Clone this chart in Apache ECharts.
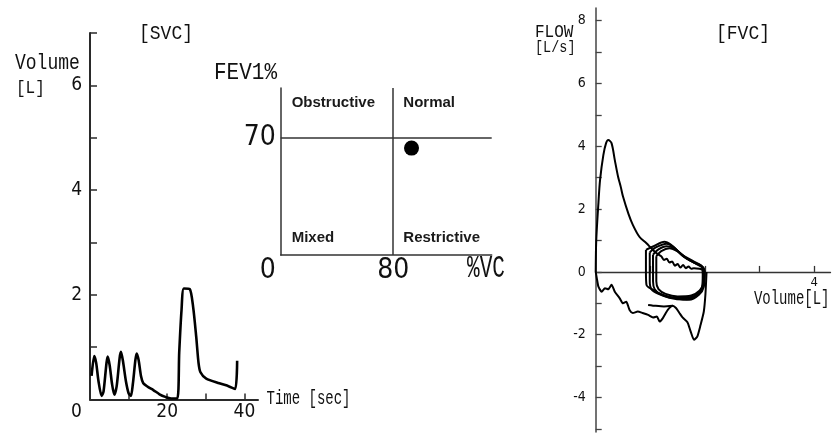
<!DOCTYPE html>
<html>
<head>
<meta charset="utf-8">
<script src="https://cdn.jsdelivr.net/npm/echarts@6.0.0/dist/echarts.min.js"></script>
<style>
html,body{margin:0;padding:0;background:#fff;}
#c{width:834px;height:435px;}
</style>
</head>
<body>
<div id="c"></div>
<script>
// ---------- DATA ----------
// SVC spirogram: [time (s), volume (L)]
const svcTrace = [
  [0.4,0.45],[1.1,0.83],[1.6,0.7],[2.2,0.35],[3.0,0.07],[3.5,0.15],[4.6,0.82],[5.1,0.65],
  [5.7,0.3],[6.3,0.09],[6.9,0.25],[8.0,0.91],[8.5,0.75],[9.3,0.35],[10.0,0.12],[10.6,0.07],
  [11.1,0.3],[12.1,0.88],[12.6,0.75],[13.2,0.45],[13.8,0.31],[15.0,0.24],[16.4,0.18],
  [18.0,0.1],[19.5,0.05],[21.0,0.02],[22.6,0.02],[23.1,0.9],[23.7,1.71],[24.3,2.12],
  [25.8,2.11],[26.7,1.77],[27.5,1.2],[28.1,0.7],[28.6,0.52],[30.1,0.4],[33.5,0.31],
  [36.0,0.25],[37.6,0.2],[38.1,0.74]
];
const svcYTicks = [1,2,3,4,5,6,7];
const svcYLabels = [2,4,6];
const svcXTicks = [10,20,30,40];
const svcXLabels = [0,20,40];

// Quadrant chart (%VC vs FEV1%)
const patient = [[93, 64]];
const vcCut = 80;
const fevCut = 70;
const quadrantNames = ['Obstructive','Normal','Mixed','Restrictive'];

// FVC flow-volume: [volume (L), flow (L/s)]
const fvcExpiration = [
  [0.0,0.0],[0.01,1.0],[0.05,2.2],[0.08,2.93],[0.14,3.72],[0.19,4.1],[0.23,4.2],[0.29,4.1],
  [0.35,3.56],[0.41,3.03],[0.46,2.7],[0.5,2.4],[0.6,1.85],[0.68,1.5],[0.8,1.12],[0.93,0.91],
  [1.02,0.75],[1.11,0.6],[1.2,0.5],[1.25,0.38],[1.3,0.42],[1.35,0.3],[1.4,0.33],[1.45,0.2],
  [1.5,0.25],[1.55,0.14],[1.6,0.22],[1.65,0.12],[1.7,0.17],[1.75,0.1],[1.8,0.12],[1.9,0.1],[1.98,0.06]
];
const fvcInspiration = [
  [0,0],[0.02,-0.2],[0.05,-0.47],[0.11,-0.63],[0.17,-0.52],[0.23,-0.55],[0.29,-0.41],[0.35,-0.63],
  [0.44,-0.84],[0.5,-1.0],[0.56,-0.95],[0.62,-1.21],[0.68,-1.31],[0.77,-1.26],[0.86,-1.31],
  [0.96,-1.37],[1.05,-1.45],[1.12,-1.42],[1.17,-1.58],[1.23,-1.47],[1.32,-1.21],[1.41,-1.08],
  [1.47,-1.15],[1.53,-1.3],[1.59,-1.45],[1.68,-1.6],[1.74,-1.9],[1.8,-2.16],[1.86,-2.06],
  [1.92,-1.69],[1.98,-1.26],[2.01,-0.7],[2.03,0.0]
];
const fvcInspStart = [[0.96,-1.05],[1.1,-1.08],[1.25,-1.1],[1.41,-1.08]];
const tidalLoopA = [[0.92,0.70],[1.05,0.81],[1.26,0.96],[1.38,0.86],[1.59,0.54],[1.80,0.33],[1.92,0.22],[1.98,0.12],[1.99,-0.2],[1.98,-0.47],[1.89,-0.73],[1.71,-0.89],[1.47,-0.84],[1.23,-0.73],[1.05,-0.57],[0.93,-0.41],[0.92,0.0],[0.92,0.70]];
const tidalLoopB = [[0.99,0.62],[1.1,0.78],[1.3,0.9],[1.42,0.8],[1.6,0.5],[1.8,0.3],[1.93,0.2],[1.97,0.05],[1.97,-0.3],[1.93,-0.6],[1.8,-0.8],[1.6,-0.88],[1.35,-0.82],[1.15,-0.7],[1.02,-0.55],[0.99,-0.3],[0.99,0.62]];
const tidalLoopC = [[1.05,0.55],[1.15,0.72],[1.3,0.82],[1.45,0.74],[1.62,0.48],[1.82,0.28],[1.94,0.18],[1.96,-0.1],[1.95,-0.45],[1.88,-0.68],[1.7,-0.82],[1.45,-0.83],[1.2,-0.72],[1.08,-0.55],[1.05,-0.3],[1.05,0.55]];
const tidalLoopD = [[1.11,0.5],[1.2,0.66],[1.35,0.75],[1.5,0.65],[1.68,0.42],[1.85,0.25],[1.95,0.15],[2.0,0.0],[1.98,-0.35],[1.9,-0.6],[1.75,-0.75],[1.5,-0.78],[1.28,-0.7],[1.15,-0.55],[1.11,-0.3],[1.11,0.5]];
const fvcYTicks = [-5,-4,-3,-2,-1,0,1,2,3,4,5,6,7,8];
const fvcYLabels = [-4,-2,0,2,4,6,8];
const fvcXTicks = [1,2,3,4];
const fvcXLabels = [4];

// ---------- STYLE ----------
const NARROW = "'Liberation Sans Narrow','DejaVu Sans Condensed','Roboto Condensed',sans-serif";
const MONO = "'Liberation Mono','DejaVu Sans Mono',monospace";
const INK = '#111';
const AX = '#2a2a2a';

function txt(text, x, y, size, align, scaleY) {
  return {
    type: 'text', x: x, y: y, scaleY: scaleY || 1, z: 100,
    style: { text: text, font: size + 'px ' + MONO, fill: INK, textAlign: align, textVerticalAlign: 'middle' }
  };
}
function qtxt(text, x, y) {
  return {type: 'text', x: x, y: y, z: 100,
    style: {text: text, font: "bold 15px 'Liberation Sans',Arial,sans-serif", fill: '#1a1a1a',
      textAlign: 'left', textVerticalAlign: 'middle'}};
}

const chart = echarts.init(document.getElementById('c'), null, {renderer: 'canvas'});
const lineS = (data, xi, w, smooth) => ({
  type: 'line', xAxisIndex: xi, yAxisIndex: xi, data: data, showSymbol: false, symbol: 'none',
  smooth: smooth || 0, lineStyle: {color: '#000', width: w}, silent: true, animation: false
});

const FVC_LEFT = 595.7, FVC_TOP = 8.1, FVC_W = 234.8, FVC_H = 424;
const FVC_YMIN = -5.1, FVC_YMAX = 8.4;
const zeroH = FVC_H * FVC_YMAX / (FVC_YMAX - FVC_YMIN);

chart.setOption({
  animation: false,
  backgroundColor: '#fff',
  grid: [
    {left: 90, top: 33, width: 168, height: 366.5},
    {left: 280.7, top: 88, width: 211, height: 167},
    {left: FVC_LEFT, top: FVC_TOP, width: FVC_W, height: FVC_H},
    {left: FVC_LEFT, top: FVC_TOP, width: FVC_W, height: zeroH}
  ],
  xAxis: [
    {gridIndex: 0, type: 'value', min: 0, max: 43.5,
     axisLine: {lineStyle: {color: AX, width: 2}},
     axisTick: {show: true, inside: true, length: 6, customValues: svcXTicks, lineStyle: {color: AX, width: 1.5}},
     axisLabel: {customValues: svcXLabels, margin: 3, color: INK, fontSize: 19, fontFamily: NARROW,
       formatter: v => v === 0 ? '{z|0}' : String(v),
       rich: {z: {fontSize: 19, fontFamily: NARROW, color: INK, padding: [0, 27, 0, 0]}}},
     splitLine: {show: false}},
    {gridIndex: 1, type: 'value', min: 0, max: 150,
     axisLine: {lineStyle: {color: '#333', width: 1.5}},
     axisTick: {show: false},
     axisLabel: {customValues: [0, vcCut], margin: 2, color: INK, fontSize: 28, fontFamily: NARROW,
       formatter: v => v === 0 ? '{z|0}' : String(v),
       rich: {z: {fontSize: 28, fontFamily: NARROW, color: INK, padding: [0, 26, 0, 0]}}},
     splitLine: {show: false}},
    {gridIndex: 2, type: 'value', min: 0, max: 4.3,
     axisLine: {onZero: true, lineStyle: {color: '#333', width: 1.3}},
     axisTick: {show: true, inside: true, length: 6, customValues: fvcXTicks, lineStyle: {color: '#333', width: 1.3}},
     axisLabel: {show: false},
     splitLine: {show: false}},
    {gridIndex: 3, type: 'value', min: 0, max: 4.3,
     axisLine: {show: false}, axisTick: {show: false},
     axisLabel: {customValues: fvcXLabels, margin: 4, color: INK, fontSize: 13, fontFamily: NARROW},
     splitLine: {show: false}}
  ],
  yAxis: [
    {gridIndex: 0, type: 'value', min: 0, max: 7,
     axisLine: {show: true, lineStyle: {color: AX, width: 2}},
     axisTick: {show: true, inside: true, length: 7, customValues: svcYTicks, lineStyle: {color: AX, width: 1.5}},
     axisLabel: {customValues: svcYLabels, margin: 8, color: INK, fontSize: 19, fontFamily: NARROW},
     splitLine: {show: false}},
    {gridIndex: 1, type: 'value', min: 0, max: 100,
     axisLine: {show: true, lineStyle: {color: '#333', width: 1.5}},
     axisTick: {show: false},
     axisLabel: {customValues: [fevCut], margin: 5, color: INK, fontSize: 28, fontFamily: NARROW},
     splitLine: {show: false}},
    {gridIndex: 2, type: 'value', min: FVC_YMIN, max: FVC_YMAX,
     axisLine: {show: true, lineStyle: {color: '#444', width: 1.5}},
     axisTick: {show: true, inside: true, length: 6, customValues: fvcYTicks, lineStyle: {color: '#444', width: 1.3}},
     axisLabel: {customValues: fvcYLabels, margin: 10, color: INK, fontSize: 14, fontFamily: NARROW},
     splitLine: {show: false}},
    {gridIndex: 3, type: 'value', min: 0, max: FVC_YMAX, show: false}
  ],
  series: [
    lineS(svcTrace, 0, 2.6, 0.25),
    {type: 'scatter', xAxisIndex: 1, yAxisIndex: 1, data: patient, symbolSize: 15,
     itemStyle: {color: '#000', opacity: 1}, silent: true,
     markLine: {silent: true, symbol: 'none', label: {show: false},
       lineStyle: {color: '#333', width: 1.5, type: 'solid'},
       data: [{xAxis: vcCut}, {yAxis: fevCut}]}},
    lineS(fvcExpiration, 2, 2, 0.3),
    lineS(fvcInspiration, 2, 2, 0.2),
    lineS(fvcInspStart, 2, 2, 0.2),
    lineS(tidalLoopA, 2, 2, 0.3),
    lineS(tidalLoopB, 2, 2, 0.3),
    lineS(tidalLoopC, 2, 2, 0.3),
    lineS(tidalLoopD, 2, 2, 0.3)
  ],
  graphic: [
    txt('[SVC]', 166, 34, 18, 'center', 1.15),
    txt('Volume', 15, 63, 18, 'left', 1.25),
    txt('[L]', 16, 88, 16, 'left', 1.1),
    txt('Time [sec]', 266.5, 398, 14, 'left', 1.5),
    txt('FEV1%', 277, 73, 21, 'right', 1.15),
    txt('%VC', 486, 269, 21, 'center', 1.45),
    txt('FLOW', 535, 32, 16, 'left', 1.2),
    txt('[L/s]', 535, 47.5, 13.5, 'left', 1.2),
    txt('[FVC]', 743, 34, 18, 'center', 1.15),
    txt('Volume[L]', 791.7, 299, 14, 'center', 1.4),
    qtxt(quadrantNames[0], 291.7, 103.3),
    qtxt(quadrantNames[1], 403.3, 103.3),
    qtxt(quadrantNames[2], 291.7, 237.7),
    qtxt(quadrantNames[3], 403.3, 237.7)
  ]
});
</script>
</body>
</html>
